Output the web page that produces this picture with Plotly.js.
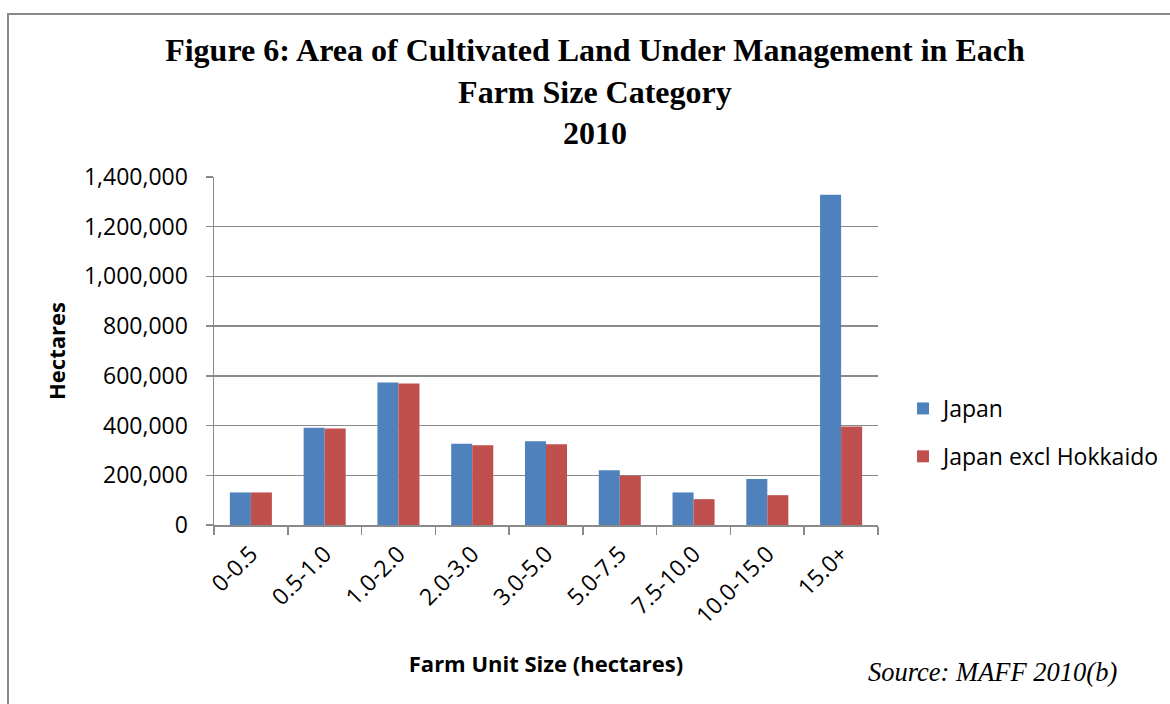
<!DOCTYPE html>
<html>
<head>
<meta charset="utf-8">
<script src="https://cdn.plot.ly/plotly-3.0.1.min.js"></script>
<style>
  html, body { margin: 0; padding: 0; background: #fff; }
  #wrap { position: relative; width: 1170px; height: 704px; overflow: hidden; }
  #frame { position: absolute; left: 7px; top: 13px; width: 1200px; height: 760px;
           border-top: 2px solid #8a8a8a; border-left: 2px solid #8a8a8a; pointer-events: none; }
  #chart { position: absolute; left: 0; top: 0; width: 1170px; height: 704px; }
</style>
</head>
<body>
<div id="wrap">
  <div id="chart"></div>
  <div id="frame"></div>
</div>
<script>
const categories = ["0-0.5", "0.5-1.0", "1.0-2.0", "2.0-3.0", "3.0-5.0", "5.0-7.5", "7.5-10.0", "10.0-15.0", "15.0+"];
const japan = [131000, 391000, 573000, 327000, 337000, 220000, 131000, 185000, 1329000];
const japanExclHokkaido = [131000, 388000, 569000, 321000, 325000, 198000, 104000, 120000, 396000];
const seriesNames = ["Japan", "Japan excl Hokkaido"];
const yTicks = [0, 200000, 400000, 600000, 800000, 1000000, 1200000, 1400000];

const sans = "Open Sans, Noto Sans, sans-serif";
const serif = "Liberation Serif, Times New Roman, serif";

const traces = [
  { type: "bar", name: seriesNames[0], x: categories, y: japan,
    marker: { color: "#4F81BD", line: { width: 0 } }, legendgroup: "a" },
  { type: "bar", name: seriesNames[1], x: categories, y: japanExclHokkaido,
    marker: { color: "#C0504D", line: { width: 0 } }, legendgroup: "b" }
];

const layout = {
  width: 1170, height: 704,
  margin: { l: 214, r: 292, t: 177, b: 179 },
  paper_bgcolor: "rgba(0,0,0,0)", plot_bgcolor: "rgba(0,0,0,0)",
  barmode: "group", bargap: 0.43, bargroupgap: 0,
  title: {
    text: "<b>Figure 6: Area of Cultivated Land Under Management in Each<br>Farm Size Category<br>2010</b>",
    font: { family: serif, size: 32, color: "#000" },
    x: 0.5085, xref: "container", xanchor: "center",
    y: 1 - 61 / 704, yref: "container", yanchor: "top"
  },
  xaxis: {
    type: "category",
    tickangle: -45,
    tickfont: { family: sans, size: 23, color: "#000" },
    showline: true, linecolor: "#8a8a8a", linewidth: 1.5,
    ticks: "outside", ticklen: 8, tickcolor: "#8a8a8a", tickwidth: 1.5,
    tickson: "boundaries",
    ticklabelstandoff: 5,
    showgrid: false,
    title: { text: "<b>Farm Unit Size (hectares)</b>", font: { family: sans, size: 22, color: "#000" }, standoff: 27 }
  },
  yaxis: {
    range: [0, 1400000],
    tickvals: yTicks,
    tickformat: ",d",
    tickfont: { family: sans, size: 23, color: "#000" },
    showline: true, linecolor: "#8a8a8a", linewidth: 1.5,
    ticks: "outside", ticklen: 7, tickcolor: "#8a8a8a", tickwidth: 1.5,
    ticklabelstandoff: 13,
    showgrid: true, gridcolor: "#8a8a8a", gridwidth: 1.5,
    zeroline: false,
    title: { text: "<b>Hectares</b>", font: { family: sans, size: 22, color: "#000" }, standoff: 12 }
  },
  legend: {
    xref: "container", yref: "container",
    x: 903 / 1170, xanchor: "left",
    y: 1 - 387 / 704, yanchor: "top",
    font: { family: sans, size: 23, color: "#000" },
    traceorder: "grouped", tracegroupgap: 15,
    bgcolor: "rgba(0,0,0,0)"
  },
  annotations: [
    { text: "<i>Source: MAFF 2010(b)</i>", xref: "paper", yref: "paper",
      x: (866 - 214) / (878 - 214), xanchor: "left",
      y: (525 - 672) / (525 - 177), yanchor: "middle",
      showarrow: false, font: { family: serif, size: 26.5, color: "#000" } }
  ],
  showlegend: true
};

Plotly.newPlot("chart", traces, layout, { displayModeBar: false, staticPlot: true });
</script>
</body>
</html>
